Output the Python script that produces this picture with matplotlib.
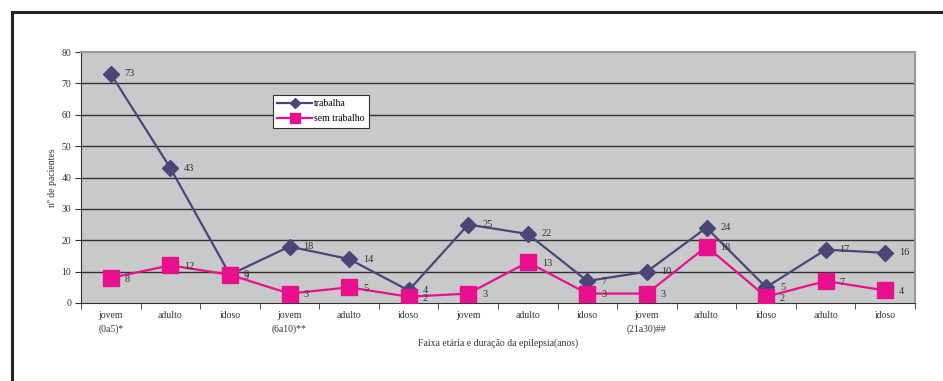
import numpy as np
import matplotlib
matplotlib.use("Agg")
import matplotlib.pyplot as plt
from matplotlib.patches import Rectangle

categories = ["jovem\n(0a5)*", "adulto", "idoso", "jovem\n(6a10)**", "adulto", "idoso",
              "jovem", "adulto", "idoso", "jovem\n(21a30)##", "adulto", "idoso",
              "adulto", "idoso"]
trabalha = [73, 43, 9, 18, 14, 4, 25, 22, 7, 10, 24, 5, 17, 16]
sem_trabalho = [8, 12, 9, 3, 5, 2, 3, 13, 3, 3, 18, 2, 7, 4]

PURPLE = "#4a4778"
MAGENTA = "#e8108c"

plt.rcParams["font.family"] = ["Liberation Serif", "DejaVu Serif"]

fig = plt.figure(figsize=(9.43, 3.81), dpi=100)
W, H = 943, 381
ax = fig.add_axes([81 / W, 1 - 303 / H, (915 - 81) / W, (303 - 52) / H])

# outer frame (cropped on right and bottom)
fig.patches.append(Rectangle((12 / W, -0.1), 1.2, 1 - 12 / H + 0.1,
                             transform=fig.transFigure, fill=False,
                             edgecolor="#222222", linewidth=2.2))

x = np.arange(len(categories))
ax.set_facecolor("#c8c9cb")
ax.set_xlim(-0.5, len(categories) - 0.5)
ax.set_ylim(0, 80)
ax.set_yticks(np.arange(0, 81, 10))
for yv in range(10, 80, 10):
    ax.axhline(yv, color="#303030", linewidth=1.0, zorder=1)

ax.plot(x, trabalha, color=PURPLE, linewidth=1.6, marker="D", markersize=8,
        label="trabalha", zorder=3)
ax.plot(x, sem_trabalho, color=MAGENTA, linewidth=1.6, marker="s", markersize=11,
        label="sem trabalho", zorder=3)

for xi, v in zip(x, trabalha):
    ax.annotate(str(v), (xi, v), xytext=(10, 0), textcoords="offset points",
                fontsize=7.5, color="#333333", va="center", ha="left", zorder=4)
for xi, v in zip(x, sem_trabalho):
    ax.annotate(str(v), (xi, v), xytext=(10, -1), textcoords="offset points",
                fontsize=7.5, color="#333333", va="center", ha="left", zorder=4)

ax.set_xticks(x)
ax.set_xticklabels(categories, fontsize=7, color="#333333", linespacing=1.6)
ax.set_xticks(np.arange(-0.5, len(categories), 1), minor=True)
ax.tick_params(axis="x", which="major", length=0, pad=6)
ax.tick_params(axis="x", which="minor", length=4, color="#333333")
ax.tick_params(axis="y", length=4, labelsize=7, colors="#333333", pad=3)

for side in ["top", "right"]:
    ax.spines[side].set_color("#999999")
    ax.spines[side].set_linewidth(1.5)
ax.spines["left"].set_color("#333333")
ax.spines["bottom"].set_color("#333333")

ax.set_xlabel("Faixa etária e duração da epilepsia(anos)", fontsize=7, color="#333333",
              labelpad=3)
ax.set_ylabel("nº de pacientes", fontsize=7, color="#333333", labelpad=3)

leg = ax.legend(loc="upper left", bbox_to_anchor=(0.23, 0.829), fontsize=7,
                frameon=True, fancybox=False, edgecolor="#333333",
                handlelength=3.6, borderpad=0.45, labelspacing=0.6, handletextpad=0.2,
                borderaxespad=0, markerscale=0.7)
leg.get_frame().set_facecolor("white")
leg.get_frame().set_alpha(1)
leg.get_frame().set_linewidth(0.8)

fig.savefig("out.png", dpi=100)
